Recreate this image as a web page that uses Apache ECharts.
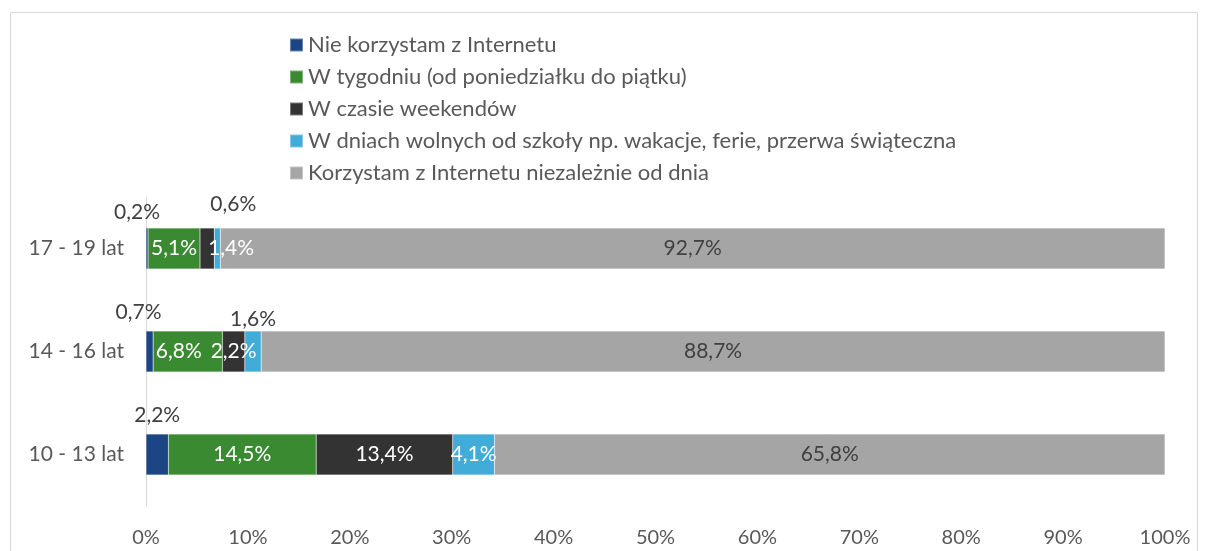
<!DOCTYPE html>
<html>
<head>
<meta charset="utf-8">
<script src="https://cdn.jsdelivr.net/npm/echarts@6/dist/echarts.min.js"></script>
<style>
  html, body { margin: 0; padding: 0; background: #fff; }
  #chart { width: 1208px; height: 551px; }
</style>
</head>
<body>
<div id="chart"></div>
<script>
// kategorie od dołu do góry
const categories = ['10 - 13 lat', '14 - 16 lat', '17 - 19 lat'];
const seriesNames = [
  'Nie korzystam z Internetu',
  'W tygodniu (od poniedziałku do piątku)',
  'W czasie weekendów',
  'W dniach wolnych od szkoły np. wakacje, ferie, przerwa świąteczna',
  'Korzystam z Internetu niezależnie od dnia'
];
const nieKorzystam = [2.2, 0.7, 0.2];
const wTygodniu = [14.5, 6.8, 5.1];
const weekendy = [13.4, 2.2, 1.4];
const dniWolne = [4.1, 1.6, 0.6];
const niezaleznie = [65.8, 88.7, 92.7];
const xTicks = [0, 10, 20, 30, 40, 50, 60, 70, 80, 90, 100];

const colors = ['#1b4683', '#3a8a31', '#333333', '#42acd8', '#a5a5a5'];
const FONT = 'Lato, "Noto Sans", sans-serif';
const fmt = v => v.toFixed(1).replace('.', ',') + '%';

const chart = echarts.init(document.getElementById('chart'));

// etykiety poza słupkiem (małe wartości)
const outside = (dx, dy) => ({
  position: 'top',
  distance: 4,
  color: '#404040',
  offset: [dx, dy]
});

const makeData = (values, overrides) => values.map((v, i) => {
  const item = {value: v};
  if (overrides && overrides[i]) item.label = overrides[i];
  return item;
});

const dataSets = [
  makeData(nieKorzystam, [outside(0, -4), outside(-11, -4), outside(-10, -1)]),
  makeData(wTygodniu, [null, {offset: [-9, 0]}, null]),
  makeData(weekendy, [null, null, {offset: [24, 0]}]),
  makeData(dniWolne, [null, outside(0, 3), outside(16, -9)]),
  makeData(niezaleznie)
];

const option = {
  animation: false,
  color: colors,
  textStyle: {fontFamily: FONT},
  graphic: [{
    type: 'rect',
    shape: {x: 10.5, y: 12.5, width: 1187, height: 600},
    style: {fill: 'none', stroke: '#d9d9d9', lineWidth: 1},
    silent: true
  }],
  legend: {
    orient: 'vertical',
    left: 284,
    top: 29,
    itemWidth: 13,
    itemHeight: 13,
    itemGap: 10,
    icon: 'rect',
    textStyle: {fontFamily: FONT, fontSize: 22, color: '#595959', lineHeight: 20},
    data: seriesNames
  },
  grid: {left: 146, right: 43, top: 197, bottom: 45, containLabel: false},
  xAxis: {
    type: 'value',
    min: 0,
    max: 100,
    interval: 10,
    axisLine: {show: false},
    axisTick: {show: false},
    splitLine: {show: false},
    axisLabel: {
      formatter: v => v + '%',
      fontFamily: FONT,
      fontSize: 20,
      color: '#595959',
      margin: 22,
      customValues: xTicks
    }
  },
  yAxis: {
    type: 'category',
    data: categories,
    axisLine: {show: true, lineStyle: {color: '#d9d9d9', width: 1}},
    axisTick: {show: false},
    axisLabel: {fontFamily: FONT, fontSize: 21, color: '#595959', margin: 22}
  },
  series: seriesNames.map((name, idx) => ({
    name: name,
    type: 'bar',
    stack: 'total',
    barWidth: 41,
    data: dataSets[idx],
    itemStyle: {borderColor: 'rgba(255,255,255,0.35)', borderWidth: 0.5},
    label: {
      show: true,
      position: 'inside',
      formatter: p => fmt(p.value),
      fontFamily: FONT,
      fontSize: 21,
      color: idx === 4 ? '#404040' : '#ffffff'
    }
  }))
};

chart.setOption(option);
</script>
</body>
</html>
